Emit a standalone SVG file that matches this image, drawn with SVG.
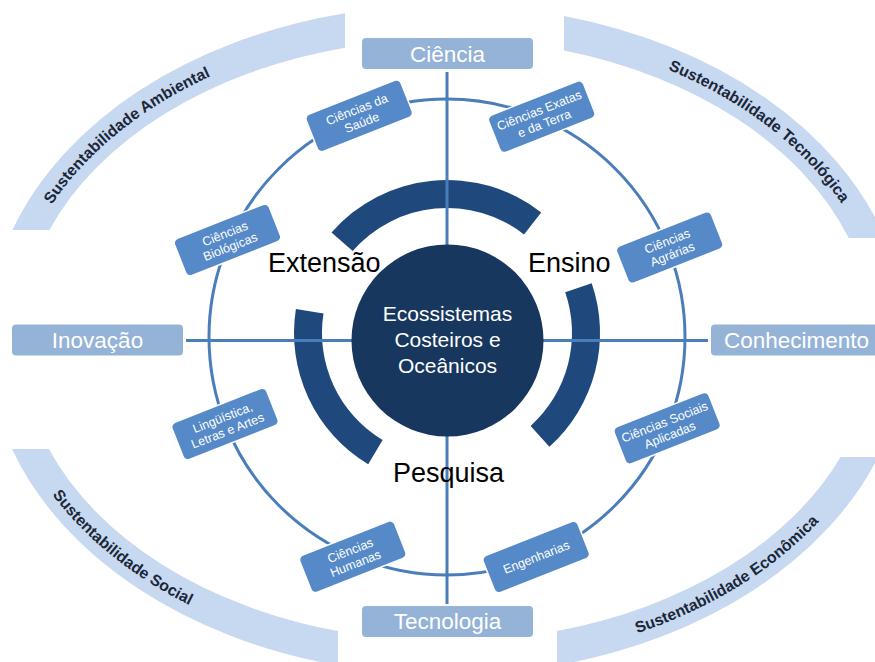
<svg xmlns="http://www.w3.org/2000/svg" width="875" height="662" viewBox="0 0 875 662">
<defs>
<style>
text{font-family:"Liberation Sans",Arial,sans-serif}
.band{fill:#C6D9F1}
.bandtxt{font-size:15.8px;font-weight:bold;fill:#1B2638}
.thick{fill:#1F497D}
.axis{stroke:#4A7EBB;stroke-width:3;fill:none}
.ring{stroke:#4A7EBB;stroke-width:3;fill:none}
.lbox{fill:#95B3D7}
.ltxt{font-size:22.5px;fill:#fff;text-anchor:middle}
.sbox{fill:#5589C8;stroke:#fff;stroke-width:1.5}
.stxt{font-size:12.5px;fill:#fff;text-anchor:middle}
.big{font-size:27px;fill:#000}
.ctxt{font-size:21px;fill:#fff;text-anchor:middle}
</style>
<path id="tp1" d="M 34.3 235 A 437 310 0 0 1 243.2 62.8"/>
<path id="tp2" d="M 641.3 59.3 A 437 310 0 0 1 856.1 227.9"/>
<path id="tp3" d="M 24.2 448.9 A 448 320.5 0 0 0 238.8 626.8"/>
<path id="tp4" d="M 598 644.8 A 448 320.5 0 0 0 845.1 490"/>
</defs>
<rect width="875" height="662" fill="#fff"/>

<g id="bands">
<g id="band-ambiental">
<path class="band" d="M 12.5 230 A 459 332 0 0 1 345 13.3 L 345 47.7 A 426 298 0 0 0 49.4 230 Z"/>
<text class="bandtxt"><textPath href="#tp1" startOffset="50%" text-anchor="middle">Sustentabilidade Ambiental</textPath></text>
</g>
<g id="band-tecnologica">
<path class="band" d="M 564 16 A 459 332 0 0 1 885.1 238 L 848.8 238 A 426 298 0 0 0 564 50.5 Z"/>
<text class="bandtxt"><textPath href="#tp2" startOffset="50%" text-anchor="middle">Sustentabilidade Tecnológica</textPath></text>
</g>
<g id="band-social">
<path class="band" d="M 12 449 A 459 332 0 0 0 338 665.5 L 338 631.1 A 426 298 0 0 1 48.9 449 Z"/>
<text class="bandtxt"><textPath href="#tp3" startOffset="50%" text-anchor="middle">Sustentabilidade Social</textPath></text>
</g>
<g id="band-economica">
<path class="band" d="M 557 665.3 A 459 332 0 0 0 878.1 457 L 840.6 457 A 426 298 0 0 1 557 630.9 Z"/>
<text class="bandtxt"><textPath href="#tp4" startOffset="50%" text-anchor="middle">Sustentabilidade Econômica</textPath></text>
</g>
</g>

<g id="arcs">
<path class="thick" d="M 331.5 232.6 A 153 153 0 0 1 541.2 212.4 L 524 234.5 A 125 125 0 0 0 352.7 251 Z"/>
<path class="thick" d="M 591.7 283.2 A 153 153 0 0 1 549.4 446.7 L 530.6 425.9 A 125 125 0 0 0 565.2 292.3 Z"/>
<path class="thick" d="M 368.2 464.2 A 153 153 0 0 1 295.9 309.1 L 323.5 313.4 A 125 125 0 0 0 382.6 440.1 Z"/>
</g>

<g id="connectors">
<circle class="ring" cx="447" cy="337" r="238"/>
<line class="axis" x1="447" y1="72" x2="447" y2="604"/>
<line class="axis" x1="186" y1="340.5" x2="708" y2="340.5"/>
</g>

<g id="center">
<circle cx="447.5" cy="340.5" r="96" fill="#17375E"/>
<text class="ctxt" x="447.5" y="321">Ecossistemas</text>
<text class="ctxt" x="447.5" y="347">Costeiros e</text>
<text class="ctxt" x="447.5" y="373">Oceânicos</text>
</g>

<g id="label-extensao"><text class="big" x="268" y="271.5">Extensão</text></g>
<g id="label-ensino"><text class="big" x="528" y="271.5">Ensino</text></g>
<g id="label-pesquisa"><text class="big" x="393" y="482">Pesquisa</text></g>

<g id="ciencia"><rect class="lbox" x="362" y="38" width="171" height="31" rx="4"/><text class="ltxt" x="447.5" y="61.5">Ciência</text></g>
<g id="inovacao"><rect class="lbox" x="12" y="324.5" width="171" height="31" rx="4"/><text class="ltxt" x="97.5" y="347.5">Inovação</text></g>
<g id="conhecimento"><rect class="lbox" x="711" y="324.5" width="171" height="31" rx="4"/><text class="ltxt" x="796.5" y="347.5">Conhecimento</text></g>
<g id="tecnologia"><rect class="lbox" x="362" y="606" width="171" height="31" rx="4"/><text class="ltxt" x="447.5" y="629">Tecnologia</text></g>

<g id="saude" transform="translate(359.2,115.8) rotate(-21.5)"><rect class="sbox" x="-51" y="-20" width="102" height="40" rx="5"/><text class="stxt" y="-2.5">Ciências da</text><text class="stxt" y="11.5">Saúde</text></g>
<g id="biologicas" transform="translate(227.5,240) rotate(-21.5)"><rect class="sbox" x="-51" y="-20" width="102" height="40" rx="5"/><text class="stxt" y="-2.5">Ciências</text><text class="stxt" y="11.5">Biológicas</text></g>
<g id="exatas" transform="translate(541.7,116.7) rotate(-21.5)"><rect class="sbox" x="-51" y="-20" width="102" height="40" rx="5"/><text class="stxt" y="-2.5">Ciências Exatas</text><text class="stxt" y="11.5">e da Terra</text></g>
<g id="agrarias" transform="translate(669.7,247.5) rotate(-21.5)"><rect class="sbox" x="-51" y="-20" width="102" height="40" rx="5"/><text class="stxt" y="-2.5">Ciências</text><text class="stxt" y="11.5">Agrárias</text></g>
<g id="linguistica" transform="translate(225,424) rotate(-21.5)"><rect class="sbox" x="-51" y="-20" width="102" height="40" rx="5"/><text class="stxt" y="-2.5">Lingüística,</text><text class="stxt" y="11.5">Letras e Artes</text></g>
<g id="humanas" transform="translate(352.8,556.7) rotate(-21.5)"><rect class="sbox" x="-51" y="-20" width="102" height="40" rx="5"/><text class="stxt" y="-2.5">Ciências</text><text class="stxt" y="11.5">Humanas</text></g>
<g id="sociais" transform="translate(667.2,428.3) rotate(-21.5)"><rect class="sbox" x="-51" y="-20" width="102" height="40" rx="5"/><text class="stxt" y="-2.5">Ciências Sociais</text><text class="stxt" y="11.5">Aplicadas</text></g>
<g id="engenharias" transform="translate(536.2,557) rotate(-21.5)"><rect class="sbox" x="-51" y="-20" width="102" height="40" rx="5"/><text class="stxt" y="4.5">Engenharias</text></g>
</svg>
